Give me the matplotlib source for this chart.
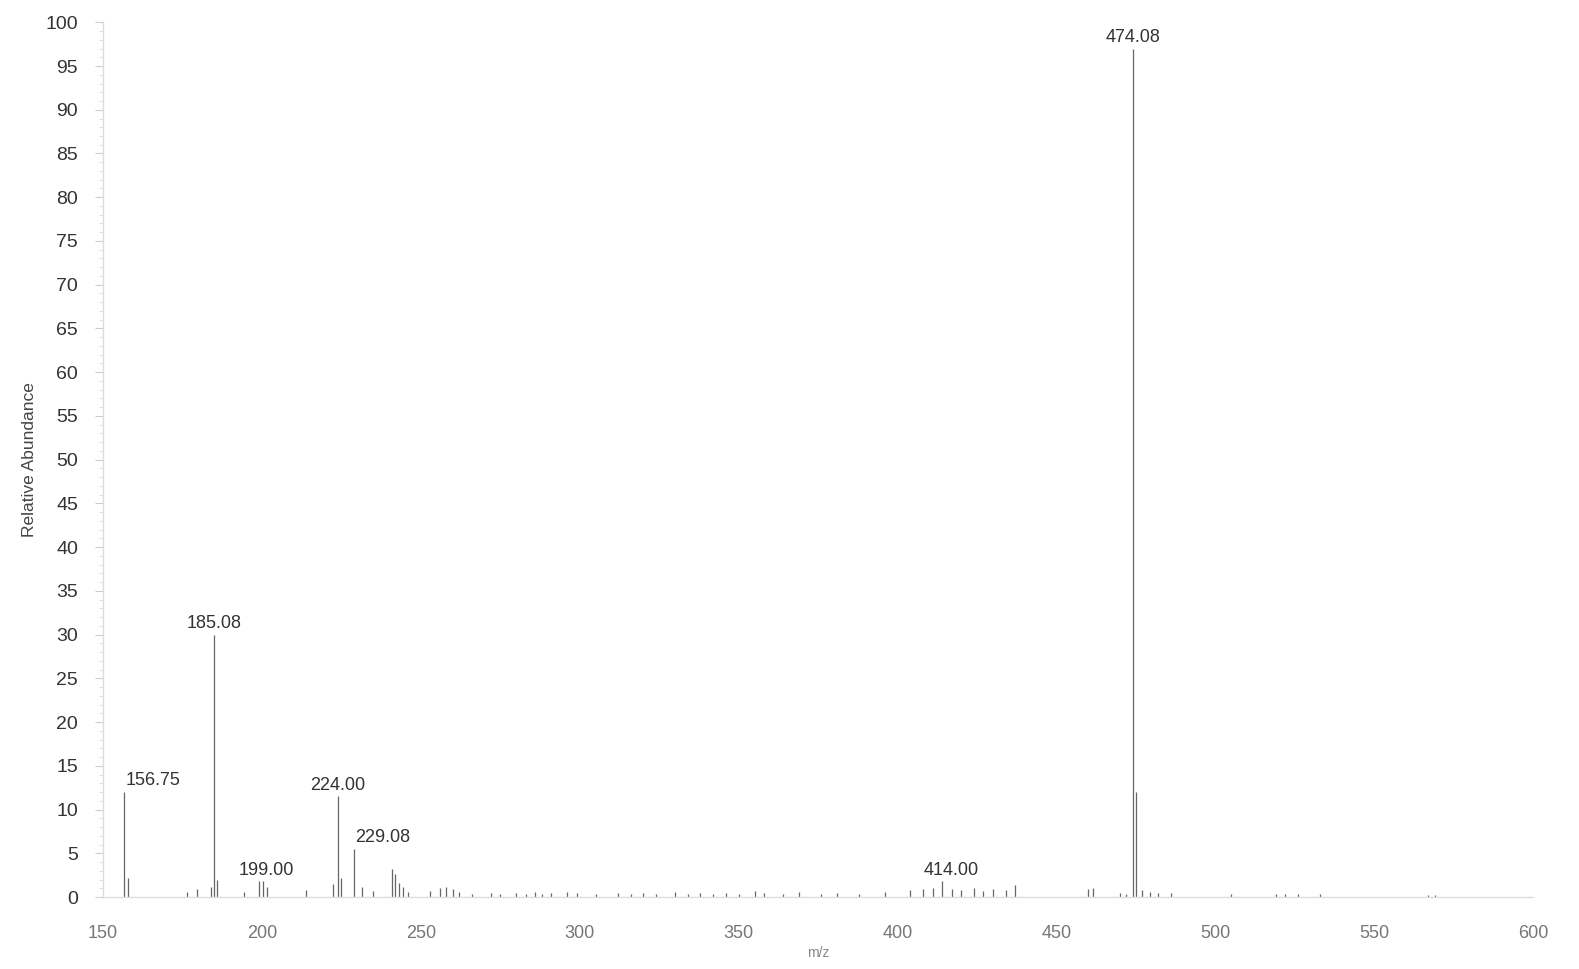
import numpy as np
import matplotlib.pyplot as plt
from matplotlib.ticker import MultipleLocator

# peak list (m/z, relative abundance)
mz = [156.75, 158.0, 176.5, 179.5, 184.0, 185.08, 186.0, 194.5, 199.00, 200.5, 201.5,
      214.0, 222.5, 224.00, 225.0, 229.08, 231.5, 235.0, 241.0, 242.0, 243.0, 244.5, 246.0,
      253.0, 256.0, 258.0, 260.0, 262.0, 266.0, 272.0, 275.0, 280.0, 283.0, 286.0, 288.0,
      291.0, 296.0, 299.0, 305.0, 312.0, 316.0, 320.0, 324.0, 330.0, 334.0, 338.0, 342.0,
      346.0, 350.0, 355.0, 358.0, 364.0, 369.0, 376.0, 381.0, 388.0, 396.0, 404.0, 408.0,
      411.0, 414.00, 417.0, 420.0, 424.0, 427.0, 430.0, 434.0, 437.0, 460.0, 461.5, 470.0,
      472.0, 474.08, 475.08, 477.0, 479.5, 482.0, 486.0, 505.0, 519.0, 522.0, 526.0, 533.0,
      567.0, 569.0]
intensity = [12.0, 2.2, 0.6, 0.9, 1.2, 30.0, 2.0, 0.6, 1.8, 1.8, 1.2,
             0.8, 1.5, 11.5, 2.2, 5.5, 1.2, 0.7, 3.2, 2.6, 1.6, 1.2, 0.6,
             0.7, 1.0, 1.1, 0.9, 0.6, 0.4, 0.5, 0.4, 0.5, 0.4, 0.6, 0.4,
             0.5, 0.6, 0.5, 0.4, 0.5, 0.4, 0.5, 0.4, 0.6, 0.4, 0.5, 0.4,
             0.5, 0.4, 0.7, 0.5, 0.4, 0.6, 0.4, 0.5, 0.4, 0.6, 0.8, 0.9,
             1.0, 1.8, 0.9, 0.8, 1.0, 0.7, 0.9, 0.8, 1.4, 0.9, 1.0, 0.5,
             0.4, 97.0, 12.0, 0.8, 0.6, 0.5, 0.5, 0.3, 0.3, 0.3, 0.4, 0.4,
             0.2, 0.2]

label_mz = [156.75, 185.08, 199.00, 224.00, 229.08, 414.00, 474.08]
label_y = [12.0, 30.0, 1.8, 11.5, 5.5, 1.8, 97.0]
label_txt = ['156.75', '185.08', '199.00', '224.00', '229.08', '414.00', '474.08']
label_dx = [9, 0, 2.5, 0, 9, 3, 0]

plt.rcParams['font.family'] = ['Liberation Sans', 'DejaVu Sans']

fig = plt.figure(figsize=(15.79, 9.69), dpi=100)
ax = fig.add_axes([0.0652, 0.0743, 0.9058, 0.9027])

ax.vlines(mz, 0, intensity, color='#666666', linewidth=0.9)

for m, y, t, dx in zip(label_mz, label_y, label_txt, label_dx):
    ax.text(m + dx, y + 0.3, t, ha='center', va='bottom', fontsize=13, color='#333333')

ax.set_xlim(150, 600)
ax.set_ylim(0, 100)
ax.xaxis.set_major_locator(MultipleLocator(50))
ax.yaxis.set_major_locator(MultipleLocator(5))
ax.yaxis.set_minor_locator(MultipleLocator(1))

for s in ['top', 'right']:
    ax.spines[s].set_visible(False)
for s in ['left', 'bottom']:
    ax.spines[s].set_color('#dddddd')
    ax.spines[s].set_linewidth(1.0)

ax.tick_params(axis='y', which='major', length=6, color='#cccccc', labelsize=14,
               labelcolor='#333333', pad=12)
ax.tick_params(axis='y', which='minor', length=3, color='#dddddd')
ax.tick_params(axis='x', which='major', length=0, labelsize=13, labelcolor='#777777', pad=20)

ax.set_ylabel('Relative Abundance', fontsize=12.5, color='#444444', labelpad=6)
ax.set_xlabel('m/z', fontsize=10, color='#888888', labelpad=3)

fig.savefig('out.png', dpi=100, facecolor='white')
